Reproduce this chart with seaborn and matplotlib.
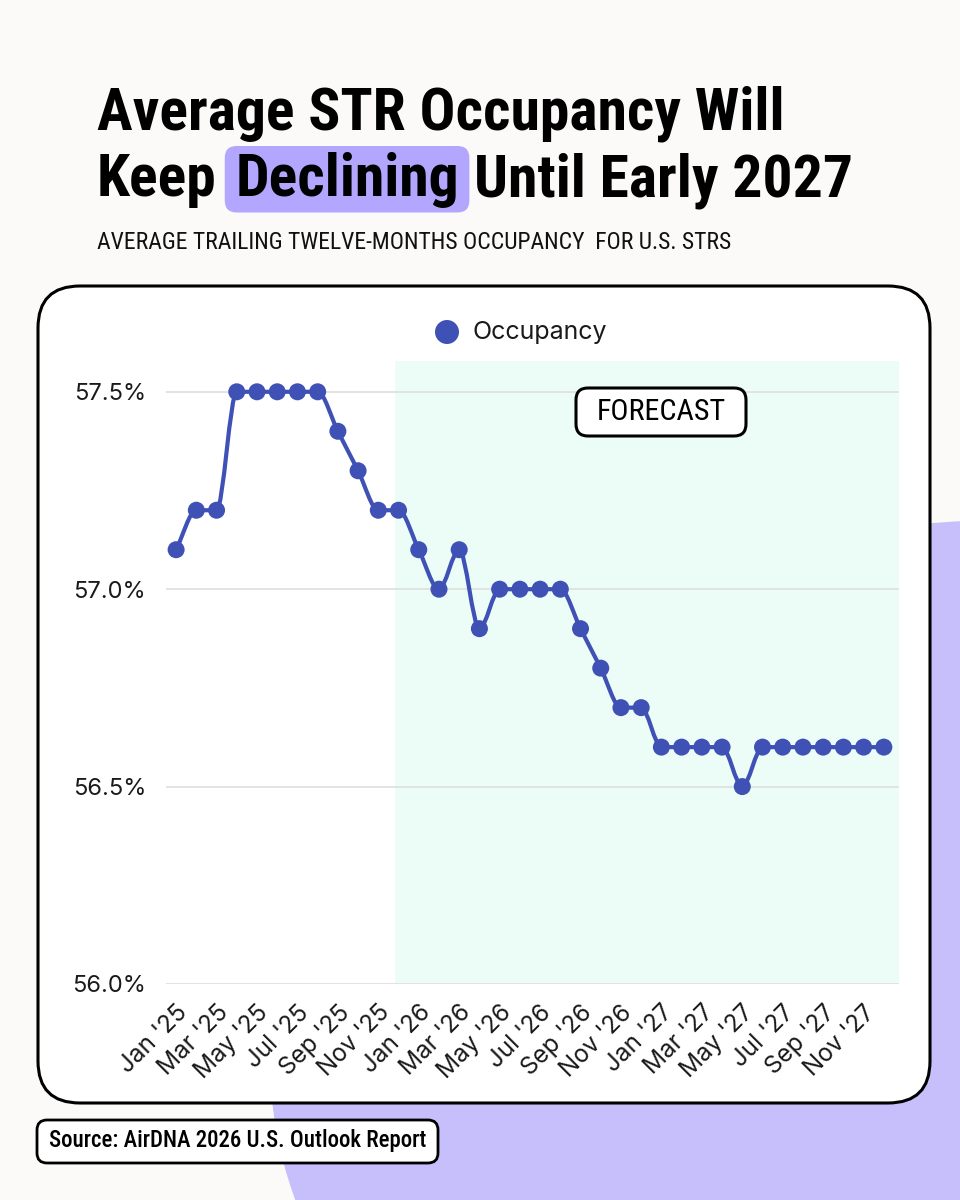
import matplotlib
matplotlib.use("Agg")
import matplotlib.pyplot as plt
import matplotlib.transforms as mtransforms
from matplotlib import font_manager as fm
from matplotlib.patches import FancyBboxPatch, Ellipse, PathPatch, Circle
from matplotlib.path import Path
import numpy as np
import pandas as pd
import seaborn as sns

# ---------------- data ----------------
months = ["Jan '25", "Feb '25", "Mar '25", "Apr '25", "May '25", "Jun '25",
          "Jul '25", "Aug '25", "Sep '25", "Oct '25", "Nov '25", "Dec '25",
          "Jan '26", "Feb '26", "Mar '26", "Apr '26", "May '26", "Jun '26",
          "Jul '26", "Aug '26", "Sep '26", "Oct '26", "Nov '26", "Dec '26",
          "Jan '27", "Feb '27", "Mar '27", "Apr '27", "May '27", "Jun '27",
          "Jul '27", "Aug '27", "Sep '27", "Oct '27", "Nov '27", "Dec '27"]
occupancy = [57.1, 57.2, 57.2, 57.5, 57.5, 57.5,
             57.5, 57.5, 57.4, 57.3, 57.2, 57.2,
             57.1, 57.0, 57.1, 56.9, 57.0, 57.0,
             57.0, 57.0, 56.9, 56.8, 56.7, 56.7,
             56.6, 56.6, 56.6, 56.6, 56.5, 56.6,
             56.6, 56.6, 56.6, 56.6, 56.6, 56.6]
forecast_start = "Dec '25"
y_ticks = [56.0, 56.5, 57.0, 57.5]
series_name = "Occupancy"

title_line1 = "Average STR Occupancy Will"
title_pre, title_hl, title_post = "Keep", "Declining", "Until Early 2027"
subtitle = "AVERAGE TRAILING TWELVE-MONTHS OCCUPANCY  FOR U.S. STRS"
forecast_label = "FORECAST"
source = "Source: AirDNA 2026 U.S. Outlook Report"

# ---------------- style ----------------
BG = "#FBFAF8"
PURPLE = "#C6BFFB"
HILITE = "#B3A6FF"
MINT = "#EBFDF6"
LINE = "#3F51B5"
GRID = "#DEDEDE"

sns.set_theme(style="white")
installed = {f.name for f in fm.fontManager.ttflist}


def pick(*names):
    for n in names:
        if n in installed:
            return n
    return "DejaVu Sans"


BODY = pick("Inter", "Roboto", "DejaVu Sans")
COND = pick("Roboto Condensed", "Liberation Sans Narrow", "Open Sans Condensed",
            "Noto Sans Display", "Roboto", "Liberation Sans")
plt.rcParams["font.family"] = [BODY, "DejaVu Sans"]

W, H = 960, 1200
fig = plt.figure(figsize=(W / 100, H / 100), dpi=100)
fig.patch.set_facecolor(BG)
# pixel transform, origin top-left
T = mtransforms.Affine2D().scale(1 / W, -1 / H).translate(0, 1) + fig.transFigure
renderer = fig.canvas.get_renderer()

# background decoration
fig.add_artist(Ellipse((1010, 1060), 1480, 1080, transform=T, facecolor=PURPLE,
                       edgecolor="none", zorder=-5))
# card
fig.add_artist(FancyBboxPatch((38, 286), 892, 817, boxstyle="round,pad=0,rounding_size=42",
                              transform=T, facecolor="white", edgecolor="black",
                              linewidth=2.2, zorder=-4))


def fit_text(x, y, s, family, weight, target_w, base=40, **kw):
    t = fig.text(x, y, s, transform=T, fontfamily=[family, "DejaVu Sans"],
                 fontweight=weight, fontsize=base, **kw)
    w = t.get_window_extent(renderer).width
    t.set_fontsize(base * target_w / w)
    return t


# title
t1 = fit_text(97, 130, title_line1, COND, "bold", 686, va="baseline", ha="left",
              color="black")
fs_title = t1.get_fontsize()
tp = fig.text(97, 196.5, title_pre, transform=T, fontfamily=[COND, "DejaVu Sans"],
              fontweight="bold", fontsize=fs_title, va="baseline", ha="left", color="black")
x_hl = tp.get_window_extent(renderer).x1 + 19
th = fig.text(x_hl, 196.5, title_hl, transform=T, fontfamily=[COND, "DejaVu Sans"],
              fontweight="bold", fontsize=fs_title, va="baseline", ha="left", color="black")
bb = th.get_window_extent(renderer)
x_post = bb.x1 + 15
fig.text(x_post, 196.5, title_post, transform=T, fontfamily=[COND, "DejaVu Sans"],
         fontweight="bold", fontsize=fs_title, va="baseline", ha="left", color="black")
fig.add_artist(FancyBboxPatch((x_hl - 11, 146), (bb.x1 - x_hl) + 21, 66.5,
                              boxstyle="round,pad=0,rounding_size=12", transform=T,
                              facecolor=HILITE, edgecolor="none", zorder=-1))

fit_text(97, 249, subtitle, COND, "normal", 633, va="baseline", ha="left", color="#111111")

# legend
fig.add_artist(Circle((447, 332), 12, transform=T, facecolor=LINE, edgecolor="none", zorder=3))
fig.text(472, 332, series_name, transform=T, fontsize=18, va="center", ha="left",
         color="#1a1a1a")

# ---------------- chart ----------------
L, R, TOP, BOT = 166, 899, 361, 984
ax = fig.add_axes([L / W, 1 - BOT / H, (R - L) / W, (BOT - TOP) / H])
ax.set_facecolor("none")
for sp in ax.spines.values():
    sp.set_visible(False)

df = pd.DataFrame({"month": months, "value": occupancy})
df["idx"] = np.arange(len(df))

ax.set_xlim(-0.5, 35.75)
ax.set_ylim(56.0, 57.578)

fi = months.index(forecast_start)
ax.axvspan(fi - 0.17, 35.75, color=MINT, zorder=0.2, linewidth=0)
ax.set_axisbelow(True)
ax.yaxis.grid(True, color=GRID, linewidth=1.2)
ax.xaxis.grid(False)


def monotone_path(xs, ys):
    n = len(xs)
    d = [(ys[i + 1] - ys[i]) / (xs[i + 1] - xs[i]) for i in range(n - 1)]
    m = [0.0] * n
    m[0], m[-1] = d[0], d[-1]
    for i in range(1, n - 1):
        m[i] = 0.0 if np.sign(d[i - 1]) != np.sign(d[i]) else (d[i - 1] + d[i]) / 2
    for i in range(n - 1):
        if abs(d[i]) < 1e-12:
            m[i] = m[i + 1] = 0.0
            continue
        a, b = m[i] / d[i], m[i + 1] / d[i]
        s = a * a + b * b
        if s > 9:
            tau = 3 / np.sqrt(s)
            m[i], m[i + 1] = a * tau * d[i], b * tau * d[i]
    verts = [(xs[0], ys[0])]
    codes = [Path.MOVETO]
    for i in range(n - 1):
        h = (xs[i + 1] - xs[i]) / 3
        verts += [(xs[i] + h, ys[i] + m[i] * h), (xs[i + 1] - h, ys[i + 1] - m[i + 1] * h),
                  (xs[i + 1], ys[i + 1])]
        codes += [Path.CURVE4] * 3
    return Path(verts, codes)


ax.add_patch(PathPatch(monotone_path(df["idx"].tolist(), df["value"].tolist()),
                       facecolor="none", edgecolor=LINE, linewidth=3.0, zorder=2,
                       capstyle="round", joinstyle="round"))
sns.scatterplot(data=df, x="idx", y="value", ax=ax, color=LINE, s=150,
                edgecolor="none", linewidth=0, zorder=3, legend=False)
ax.set_xlabel("")
ax.set_ylabel("")

ax.set_yticks(y_ticks)
ax.set_yticklabels([f"{v:.1f}%" for v in y_ticks], fontsize=17, color="#1a1a1a")
ax.set_xticks(df["idx"][::2])
ax.set_xticklabels(df["month"][::2], fontsize=17.5, color="#1a1a1a",
                   rotation=45, ha="right", va="center", rotation_mode="anchor")
ax.tick_params(axis="both", length=0)
ax.tick_params(axis="y", pad=14.4)
ax.tick_params(axis="x", pad=18)
off = mtransforms.ScaledTranslation(8 / 100, 0, fig.dpi_scale_trans)
for lab in ax.get_xticklabels():
    lab.set_transform(lab.get_transform() + off)

# forecast tag
fig.add_artist(FancyBboxPatch((576, 388), 170, 48, boxstyle="round,pad=0,rounding_size=12",
                              transform=T, facecolor="white", edgecolor="black",
                              linewidth=2.2, zorder=4))
ft = fit_text(661, 420, forecast_label, COND, "normal", 129, ha="center", va="baseline",
              color="black")
ft.set_zorder(5)

# source tag
fig.add_artist(FancyBboxPatch((37, 1120), 401, 43, boxstyle="round,pad=0,rounding_size=10",
                              transform=T, facecolor="white", edgecolor="black",
                              linewidth=2.0, zorder=4))
st = fit_text(49, 1147, source, COND, "medium", 377, ha="left", va="baseline", color="black")
st.set_zorder(5)

fig.savefig("out.png", dpi=100, facecolor=BG)
